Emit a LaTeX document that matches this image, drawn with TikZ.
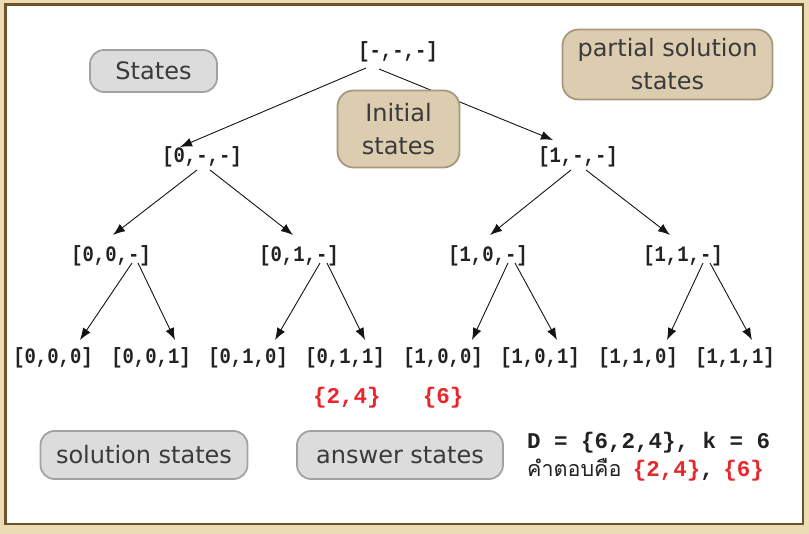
\documentclass[tikz,border=0pt]{standalone}
\usepackage{fontspec}
\setmainfont{DejaVu Sans}
\newfontfamily\treemono[FakeStretch=0.86]{Liberation Mono}
\newfontfamily\botmono{Liberation Mono}
\newfontfamily\thaifont[Script=Thai]{Loma}
\usetikzlibrary{arrows.meta}
\definecolor{pagebg}{HTML}{EBDCB6}
\definecolor{framec}{HTML}{6E5229}
\definecolor{grayfill}{HTML}{DCDCDC}
\definecolor{graydraw}{HTML}{A2A2A2}
\definecolor{beigefill}{HTML}{DDCDB0}
\definecolor{beigedraw}{HTML}{A6987C}
\definecolor{labeltext}{HTML}{3A3A3A}
\definecolor{ansred}{HTML}{E8262B}
\definecolor{monotext}{HTML}{222222}
\tikzset{
  st/.style={inner sep=0pt, text=monotext, font=\treemono\bfseries\fontsize{22}{26}\selectfont},
  red/.style={inner sep=0pt, text=ansred, font=\botmono\bfseries\fontsize{22.5}{26}\selectfont},
  conn/.style={draw=black!92, line width=0.9pt, -{Latex[length=12pt,width=9pt]}},
  graybox/.style={draw=graydraw, fill=grayfill, line width=1.8pt, rounded corners=14pt,
     text=labeltext, font=\fontsize{24}{33}\selectfont, align=center, inner sep=0pt},
  beigebox/.style={draw=beigedraw, fill=beigefill, line width=1.8pt, rounded corners=16pt,
     text=labeltext, font=\fontsize{24}{33}\selectfont, align=center, inner sep=0pt}
}
\begin{document}
\begin{tikzpicture}[x=1pt,y=-1pt]
\useasboundingbox (0,0) rectangle (809,534);
\fill[pagebg] (0,0) rectangle (809,534);
\draw[framec, line width=2.6pt, fill=white] (5.5,4.5) rectangle (803,524);

% tree nodes
\node[st] (r) at (398,52) {[-,-,-]};
\node[st] (a) at (202,157) {[0,-,-]};
\node[st] (b) at (578,157) {[1,-,-]};
\node[st] (aa) at (111,256) {[0,0,-]};
\node[st] (ab) at (299,256) {[0,1,-]};
\node[st] (ba) at (488,256) {[1,0,-]};
\node[st] (bb) at (683,256) {[1,1,-]};
\node[st] (aaa) at (53,358) {[0,0,0]};
\node[st] (aab) at (151,358) {[0,0,1]};
\node[st] (aba) at (248,358) {[0,1,0]};
\node[st] (abb) at (345,358) {[0,1,1]};
\node[st] (baa) at (443,358) {[1,0,0]};
\node[st] (bab) at (540,358) {[1,0,1]};
\node[st] (bba) at (638,358) {[1,1,0]};
\node[st] (bbb) at (735,358) {[1,1,1]};

\node[red] (ans1) at (347,398) {\{2,4\}};
\node[red] (ans2) at (443,398) {\{6\}};

% connectors
\draw[conn] ([shift={(-32,16)}]r.center) -- ([shift={(-22,-10)}]a.center);
\draw[conn] ([shift={(-19,17)}]r.center) -- ([shift={(-25,-17)}]b.center);

\draw[conn] ([shift={(-5,13)}]a.center) -- ([shift={(2,-21)}]aa.center);
\draw[conn] ([shift={(8,13)}]a.center) -- ([shift={(-6,-21)}]ab.center);
\draw[conn] ([shift={(-7,13)}]b.center) -- ([shift={(2,-21)}]ba.center);
\draw[conn] ([shift={(8,13)}]b.center) -- ([shift={(-13,-21)}]bb.center);

\draw[conn] ([shift={(21,7)}]aa.center) -- ([shift={(27,-18)}]aaa.center);
\draw[conn] ([shift={(27,7)}]aa.center) -- ([shift={(24,-18)}]aab.center);
\draw[conn] ([shift={(21,7)}]ab.center) -- ([shift={(27,-18)}]aba.center);
\draw[conn] ([shift={(28,7)}]ab.center) -- ([shift={(20,-18)}]abb.center);
\draw[conn] ([shift={(20,7)}]ba.center) -- ([shift={(29,-18)}]baa.center);
\draw[conn] ([shift={(27,7)}]ba.center) -- ([shift={(17,-18)}]bab.center);
\draw[conn] ([shift={(20,7)}]bb.center) -- ([shift={(29,-18)}]bba.center);
\draw[conn] ([shift={(27,7)}]bb.center) -- ([shift={(17,-18)}]bbb.center);

% label boxes
\node[graybox, minimum width=127pt, minimum height=42pt] (states) at (153.5,71) {States};
\node[beigebox, minimum width=210pt, minimum height=70pt] (partial) at (667.5,64.5) {partial solution\\states};
\node[beigebox, minimum width=122pt, minimum height=77pt] (initial) at (398.5,129) {Initial\\states};
\node[graybox, minimum width=207pt, minimum height=48pt] (sol) at (144,455) {solution states};
\node[graybox, minimum width=206pt, minimum height=48pt] (answ) at (400,455) {answer states};

% bottom-right text
\node[anchor=west, inner sep=0pt, text=monotext, font=\botmono\bfseries\fontsize{22.5}{26}\selectfont] (dk) at (527,443) {D = \{6,2,4\}, k = 6};
\node[anchor=west, inner sep=0pt, text=monotext, font=\botmono\bfseries\fontsize{22.5}{26}\selectfont] (thai) at (527,470)
  {{\thaifont\mdseries\fontsize{21.5}{26}\selectfont คำตอบคือ}\hspace{-2pt} \textcolor{ansred}{\{2,4\}},\hspace{-4pt} \textcolor{ansred}{\{6\}}};
\end{tikzpicture}
\end{document}
